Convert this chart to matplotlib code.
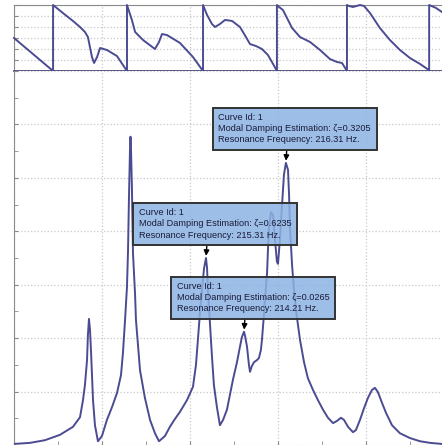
import matplotlib
matplotlib.use("Agg")
import matplotlib.pyplot as plt
import matplotlib.ticker as mtick

# top panel: time signal (sawtooth-like segments, vertical jumps at resets)
sig_x = [0, 22.2,
         22.2, 27.8, 33.5, 37.5, 40.3, 42.0, 44.3, 45.5, 47.2, 48.9, 52.8, 58.5, 64.2,
         64.2, 67.0, 68.8, 73.3, 80.1, 82.4, 84.1, 86.9, 94.3, 101.7, 107.4,
         107.4, 109.7, 112.5, 114.2, 117.0, 119.9, 123.9, 128.4, 131.8, 134.1, 137.5, 140.9, 144.3, 147.2, 149.4,
         149.4, 150.6, 152.8, 158.0, 162.5, 168.2, 173.9, 179.5, 183.5, 186.4, 189.2,
         189.2, 190.3, 192.6, 196.6, 198.9, 202.3, 207.9, 213.6, 219.3, 225.0, 230.7, 234.9, 235.9,
         235.9, 239.8, 243.2]
sig_y = [3.0, 0.0,
         6.0, 5.27, 4.55, 4.0, 3.55, 3.09, 1.27, 0.73, 1.27, 2.09, 1.91, 1.36, 0.0,
         6.0, 4.64, 3.55, 2.82, 2.0, 2.64, 3.36, 3.27, 2.55, 1.27, 0.0,
         6.0, 5.09, 4.27, 4.0, 4.27, 4.64, 4.55, 4.0, 3.09, 2.45, 2.27, 2.0, 1.45, 0.64, 0.0,
         6.0, 5.82, 5.55, 3.91, 3.09, 2.64, 1.91, 1.09, 0.82, 0.73, 0.0,
         6.0, 5.91, 5.82, 6.0, 5.91, 5.27, 3.91, 2.82, 1.91, 1.18, 0.64, 0.18, 0.0,
         6.0, 5.73, 5.36]

# bottom panel: frequency response
freq = [0, 9.1, 17.6, 26.1, 33.5, 37.5, 39.2, 40.3, 41.5, 42.0, 42.6, 43.2, 43.8, 44.9, 46.0, 47.7,
        50.0, 52.8, 55.7, 58.5, 60.8, 61.9, 63.1, 64.2, 64.8, 65.3, 65.9, 66.2, 66.5, 67.0, 67.6,
        68.8, 69.3, 71.6, 74.4, 77.3, 80.1, 82.4, 85.8, 88.6, 91.5, 94.3, 98.3, 101.7, 103.4,
        104.5, 105.7, 106.8, 108.0, 109.1, 109.7, 110.2, 111.4, 112.5, 113.6, 115.3, 117.0,
        118.8, 121.0, 122.7, 124.4, 126.7, 128.4, 129.5, 130.7, 131.3, 132.4, 133.5, 134.1,
        135.2, 136.4, 138.1, 139.2, 140.3, 140.9, 142.0, 142.6, 143.8, 144.3, 144.9, 146.0,
        147.2, 148.3, 149.4, 150.0, 151.1, 152.3, 153.4, 154.5, 155.7, 156.3, 156.8, 158.0,
        159.1, 160.2, 162.5, 164.8, 167.0, 169.9, 172.7, 175.6, 178.4, 181.3, 183.5, 185.8,
        187.5, 189.8, 192.6, 194.3, 196.6, 198.9, 201.1, 203.4, 205.1, 206.8, 209.1, 211.4,
        214.8, 219.3, 225.0, 230.7, 236.4, 243.2]
amp = [0.02, 0.04, 0.09, 0.19, 0.34, 0.52, 0.84, 1.12, 1.59, 2.06, 2.36, 2.15, 1.72, 0.84, 0.37, 0.07,
       0.17, 0.47, 0.71, 0.97, 1.31, 1.72, 2.34, 2.96, 3.65, 4.59, 5.52, 5.77, 5.52, 4.83, 3.60,
       2.81, 2.34, 1.40, 0.88, 0.47, 0.22, 0.07, 0.17, 0.34, 0.49, 0.62, 0.84, 1.09, 1.50,
       1.97, 2.49, 2.90, 3.31, 3.50, 3.31, 2.90, 2.25, 1.65, 1.12, 0.71, 0.37,
       0.47, 0.66, 0.94, 1.22, 1.55, 1.84, 2.02, 2.12, 2.04, 1.84, 1.50, 1.37,
       1.48, 1.55, 1.59, 1.63, 1.78, 1.97, 2.43, 2.72, 3.22, 3.65, 4.06, 4.36,
       4.31, 3.84, 3.43, 3.39, 3.84, 4.49, 5.06, 5.28, 5.15, 4.68, 4.08, 3.37,
       2.90, 2.53, 1.97, 1.55, 1.25, 1.03, 0.84, 0.66, 0.51, 0.41, 0.45, 0.51,
       0.47, 0.34, 0.24, 0.28, 0.47, 0.69, 0.88, 1.03, 1.07, 0.99, 0.79, 0.60,
       0.37, 0.22, 0.13, 0.07, 0.04, 0.02]

# annotated peaks (frequency of the marked point) and their labels
peak_freqs = [154.5, 109.1, 130.7]
peak_labels = [
    "Curve Id: 1\nModal Damping Estimation: \u03b6=0.3205\nResonance Frequency: 216.31 Hz.",
    "Curve Id: 1\nModal Damping Estimation: \u03b6=0.6235\nResonance Frequency: 215.31 Hz.",
    "Curve Id: 1\nModal Damping Estimation: \u03b6=0.0265\nResonance Frequency: 214.21 Hz.",
]

LINE = "#4b4b92"
GRID = "#c8c8c8"
SPINE = "#8a8a8a"


def styleAxes(ax):
    ax.grid(True, which="major", color=GRID, linestyle=":", linewidth=0.9)
    ax.tick_params(which="both", direction="in", length=3, color=SPINE,
                   labelleft=False, labelbottom=False)
    ax.spines["right"].set_visible(False)
    for side in ("left", "top"):
        ax.spines[side].set_color(SPINE)
    ax.set_xlim(0, 243.2)
    ax.xaxis.set_major_locator(mtick.MultipleLocator(50))
    ax.xaxis.set_minor_locator(mtick.MultipleLocator(25))


def main() -> None:
    W, H = 442, 445
    fig = plt.figure(figsize=(W / 100, H / 100), dpi=100)

    left = 14 / W
    axTop = fig.add_axes([left, (H - 71) / H, 1 - left, 66 / H])
    axBot = fig.add_axes([left, 0, 1 - left, 374 / H])

    styleAxes(axTop)
    axTop.set_ylim(0, 6)
    axTop.yaxis.set_major_locator(mtick.MultipleLocator(1))
    axTop.tick_params(axis="x", which="both", length=0)
    axTop.spines["bottom"].set_color("#3c3c70")
    axTop.spines["bottom"].set_linewidth(1.2)
    axTop.plot(sig_x, sig_y, color=LINE, lw=1.4, clip_on=False, zorder=3)

    styleAxes(axBot)
    axBot.set_ylim(0, 7)
    axBot.yaxis.set_major_locator(mtick.MultipleLocator(1))
    axBot.yaxis.set_minor_locator(mtick.MultipleLocator(0.5))
    axBot.spines["bottom"].set_visible(False)
    axBot.spines["top"].set_visible(False)
    axBot.plot(freq, amp, color=LINE, lw=1.4, zorder=3)

    fs = 6.6
    pad = 0.6
    padPx = pad * fs * 100 / 72
    for f, label in zip(peak_freqs, peak_labels):
        a = amp[freq.index(f)]
        axBot.annotate(
            label, xy=(f, a), xycoords="data",
            xytext=(-73 + padPx, 13 + padPx), textcoords="offset pixels",
            ha="left", va="bottom", fontsize=fs, color="#1a1a38",
            family=["Liberation Sans", "DejaVu Sans"], linespacing=1.3,
            bbox=dict(boxstyle="square,pad=%.2f" % pad, fc=(0.55, 0.70, 0.89, 0.85),
                      ec="#333333", lw=1.4),
            arrowprops=dict(arrowstyle="-|>", color="black", lw=1.0,
                            relpos=(0.45, 0.0), shrinkA=0, shrinkB=1.5,
                            mutation_scale=8),
            zorder=5,
        )

    fig.savefig("out.png", dpi=100)


if __name__ == "__main__":
    main()
